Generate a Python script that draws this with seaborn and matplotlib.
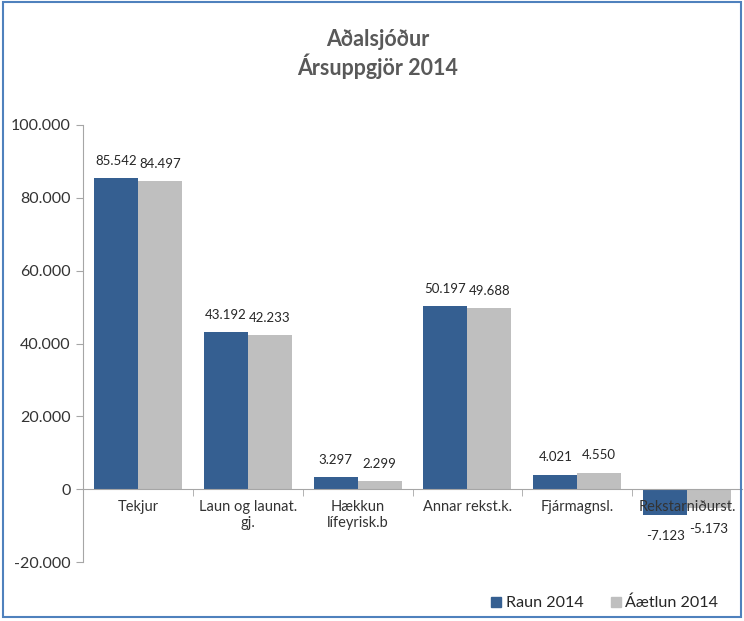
import matplotlib
matplotlib.use("Agg")
import matplotlib.pyplot as plt
import seaborn as sns
import pandas as pd
from matplotlib.ticker import FuncFormatter, FixedLocator
from matplotlib.lines import Line2D
from matplotlib.patches import Rectangle

categories = ["Tekjur", "Laun og launat.\ngj.", "Hækkun\nlífeyrisk.b", "Annar rekst.k.",
              "Fjármagnsl.", "Rekstarniðurst."]
raun = [85542, 43192, 3297, 50197, 4021, -7123]
aaetlun = [84497, 42233, 2299, 49688, 4550, -5173]
series = ["Raun 2014", "Áætlun 2014"]
colors = ["#355F91", "#BFBFBF"]
title = "Aðalsjóður\nÁrsuppgjör 2014"

df = pd.DataFrame({
    "cat": categories * 2,
    "val": raun + aaetlun,
    "series": [series[0]] * len(categories) + [series[1]] * len(categories),
})

sns.set_style("white")
plt.rcParams["font.family"] = ["Lato", "DejaVu Sans"]

fig = plt.figure(figsize=(7.44, 6.21), dpi=100)
ax = fig.add_axes([83/744, 1 - 562/621, (742 - 83)/744, (562 - 125)/621])

sns.barplot(data=df, x="cat", y="val", hue="series", palette=colors,
            width=0.8, saturation=1, ax=ax, legend=False, errorbar=None,
            linewidth=0, edgecolor="none")

ax.set_axisbelow(False)
ax.set_ylim(-20000, 100000)
ax.set_xlim(-0.5, len(categories) - 0.5)
ax.yaxis.set_major_locator(FixedLocator([-20000, 0, 20000, 40000, 60000, 80000, 100000]))
ax.yaxis.set_major_formatter(FuncFormatter(lambda v, p: f"{v:,.0f}".replace(",", ".")))
ax.set_xlabel("")
ax.set_ylabel("")

for s in ["top", "right"]:
    ax.spines[s].set_visible(False)
ax.spines["bottom"].set_position(("data", 0))
ax.spines["bottom"].set_color("#A6A6A6")
ax.spines["left"].set_color("#A6A6A6")

ax.tick_params(axis="y", length=5, color="#A6A6A6", direction="out", labelsize=11.5,
               labelcolor="#333333", left=True, pad=4)
ax.tick_params(axis="x", which="major", length=0, labelsize=10.5, labelcolor="#333333", pad=8)
ax.set_xticks([i + 0.5 for i in range(len(categories) - 1)], minor=True)
ax.tick_params(axis="x", which="minor", length=5, color="#A6A6A6", direction="out", bottom=True)

for container in ax.containers:
    for bar in container:
        h = bar.get_height()
        x = bar.get_x() + bar.get_width() / 2
        label = f"{h:,.0f}".replace(",", ".")
        if h >= 0:
            ax.annotate(label, (x, h), xytext=(0, 8), textcoords="offset points",
                        ha="center", va="bottom", fontsize=9.5, color="#262626")
        else:
            ax.annotate(label, (x, h), xytext=(0, -11), textcoords="offset points",
                        ha="center", va="top", fontsize=9.5, color="#262626")

fig.text(378/744, 1 - 54/621, title, ha="center", va="center", fontsize=15.5,
         fontweight="bold", color="#595959", linespacing=1.2)

handles = [Line2D([], [], marker="s", linestyle="", markersize=7.5,
                  markerfacecolor=c, markeredgecolor=c) for c in colors]
fig.legend(handles, series, loc="center right", bbox_to_anchor=(0.985, 1 - 603/621),
           ncol=2, frameon=False, fontsize=11.6, handletextpad=0.0, columnspacing=1.4,
           labelcolor="#262626", handlelength=1.2)

fig.patches.append(Rectangle((0.004, 0.006), 0.992, 0.99, transform=fig.transFigure,
                             fill=False, edgecolor="#4F81BD", linewidth=1.5))

fig.savefig("out.png", dpi=100)
